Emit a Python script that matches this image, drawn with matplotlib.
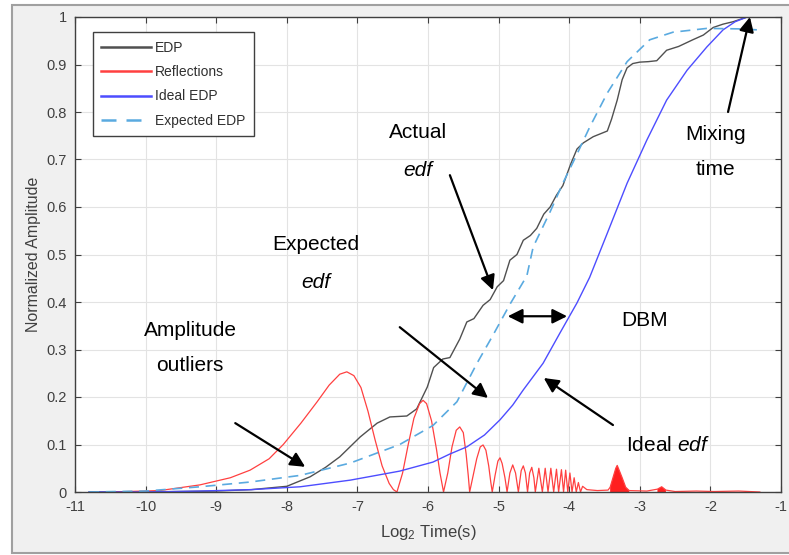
import numpy as np
import matplotlib
matplotlib.use('Agg')
import matplotlib.pyplot as plt
from matplotlib.patches import Rectangle

plt.rcParams['font.family'] = ['Liberation Sans', 'DejaVu Sans']
plt.rcParams['mathtext.fontset'] = 'custom'
plt.rcParams['mathtext.rm'] = 'Liberation Sans'
plt.rcParams['mathtext.it'] = 'Liberation Sans:italic'
plt.rcParams['axes.unicode_minus'] = False

# EDP (actual)
edp_x = [-10.8, -10.0, -9.0, -8.5, -8.0, -7.67, -7.45, -7.25, -6.96, -6.72, -6.54, -6.30,
         -6.16, -6.01, -5.92, -5.79, -5.69, -5.55, -5.45, -5.35, -5.22, -5.12, -5.02, -4.93,
         -4.84, -4.74, -4.65, -4.55, -4.46, -4.36, -4.27, -4.18, -4.09, -3.98, -3.89, -3.80,
         -3.66, -3.46, -3.40, -3.32, -3.25, -3.18, -3.10, -3.00, -2.88, -2.76, -2.62, -2.45,
         -2.25, -2.10, -1.96, -1.82, -1.68, -1.48]
edp_y = [0.0, 0.0, 0.002, 0.005, 0.012, 0.032, 0.052, 0.074, 0.116, 0.145, 0.158, 0.160,
         0.175, 0.221, 0.262, 0.280, 0.283, 0.322, 0.358, 0.365, 0.393, 0.405, 0.432, 0.445,
         0.488, 0.500, 0.530, 0.540, 0.555, 0.585, 0.600, 0.625, 0.645, 0.690, 0.722, 0.735,
         0.748, 0.760, 0.785, 0.825, 0.868, 0.893, 0.902, 0.905, 0.906, 0.908, 0.930, 0.938,
         0.952, 0.962, 0.978, 0.985, 0.990, 1.0]

# reflections
refl_x = [-10.5, -9.8, -9.23, -8.8, -8.52, -8.25, -8.05, -7.8, -7.57, -7.4, -7.25, -7.15,
          -7.05, -6.95, -6.85, -6.75, -6.65, -6.55, -6.49, -6.44,
          -6.36, -6.28, -6.20, -6.12, -6.07, -6.02, -5.95, -5.88, -5.83, -5.78,
          -5.72, -5.66, -5.60, -5.55, -5.50, -5.46, -5.43, -5.41,
          -5.36, -5.31, -5.26, -5.22, -5.18, -5.14, -5.11, -5.09,
          -5.05, -5.01, -4.98, -4.95, -4.91, -4.88,
          -4.84, -4.80, -4.76, -4.72, -4.68, -4.65, -4.62, -4.59, -4.56, -4.53, -4.50, -4.48,
          -4.43, -4.38, -4.34, -4.30, -4.26, -4.22, -4.18, -4.15, -4.11, -4.08,
          -4.05, -4.02, -3.99, -3.96, -3.93, -3.90, -3.87, -3.84, -3.81, -3.75,
          -3.60, -3.45, -3.42, -3.38, -3.34, -3.32, -3.29, -3.25, -3.20, -3.15,
          -2.90, -2.75, -2.69, -2.63, -2.50, -2.20, -1.95, -1.60, -1.30]
refl_y = [0.0, 0.003, 0.015, 0.03, 0.046, 0.07, 0.10, 0.145, 0.19, 0.225, 0.248, 0.253,
          0.245, 0.22, 0.17, 0.11, 0.055, 0.018, 0.005, 0.0,
          0.04, 0.10, 0.155, 0.186, 0.193, 0.186, 0.15, 0.09, 0.04, 0.0,
          0.04, 0.095, 0.13, 0.137, 0.125, 0.08, 0.035, 0.0,
          0.035, 0.07, 0.095, 0.099, 0.088, 0.055, 0.02, 0.0,
          0.035, 0.065, 0.072, 0.06, 0.03, 0.0,
          0.04, 0.057, 0.04, 0.0, 0.045, 0.055, 0.04, 0.0, 0.04, 0.052, 0.03, 0.0,
          0.05, 0.0, 0.05, 0.0, 0.05, 0.0, 0.048, 0.0, 0.047, 0.0,
          0.046, 0.0, 0.04, 0.0, 0.03, 0.0, 0.02, 0.0, 0.012, 0.005,
          0.003, 0.004, 0.01, 0.03, 0.05, 0.056, 0.045, 0.03, 0.01, 0.003,
          0.002, 0.006, 0.011, 0.004, 0.001, 0.002, 0.001, 0.002, 0.0]

# ideal EDP
ideal_x = [-10.8, -10.0, -9.23, -8.5, -7.81, -7.10, -6.40, -5.93, -5.69, -5.45, -5.20, -4.98,
           -4.80, -4.65, -4.50, -4.37, -4.13, -3.89, -3.71, -3.46, -3.18, -2.90, -2.62, -2.33,
           -2.05, -1.82, -1.65, -1.48]
ideal_y = [0.0, 0.0, 0.002, 0.005, 0.011, 0.025, 0.044, 0.063, 0.080, 0.095, 0.120, 0.152,
           0.183, 0.215, 0.245, 0.271, 0.335, 0.398, 0.452, 0.545, 0.650, 0.741, 0.825, 0.888,
           0.937, 0.973, 0.990, 1.0]

# expected EDP
exp_x = [-10.8, -10.0, -9.23, -8.52, -7.81, -7.10, -6.40, -5.93, -5.59, -5.31, -5.08, -4.84,
         -4.60, -4.51, -4.27, -4.09, -3.91, -3.71, -3.46, -3.18, -2.86, -2.53, -2.05, -1.60, -1.34]
exp_y = [0.0, 0.002, 0.011, 0.021, 0.035, 0.061, 0.100, 0.140, 0.190, 0.270, 0.330, 0.395,
         0.455, 0.516, 0.590, 0.650, 0.705, 0.768, 0.840, 0.906, 0.952, 0.968, 0.976, 0.975, 0.973]

fig = plt.figure(figsize=(7.89, 5.55), dpi=100, facecolor='white')
fig.add_artist(Rectangle((12/789, 2/555), 1.0, 1 - 7/555, transform=fig.transFigure,
                         facecolor='#f0f0f0', edgecolor='#a0a0a0', lw=1.5, zorder=-10))

ax = fig.add_axes([75/789, 63/555, 706/789, 475/555])

ax.plot(edp_x, edp_y, color='#505050', lw=1.0, label='EDP')
ax.plot(refl_x, refl_y, color='#ff4040', lw=0.9, label='Reflections')
rx = np.array(refl_x)
ax.fill_between(refl_x, refl_y, where=((rx >= -3.42) & (rx <= -3.15)) | ((rx >= -2.75) & (rx <= -2.63)),
                color='#ff2020', lw=0)
ax.plot(ideal_x, ideal_y, color='#4d4dff', lw=1.0, label='Ideal EDP')
ax.plot(exp_x, exp_y, color='#5aaae0', lw=1.2, ls=(0, (6, 4)), label='Expected EDP')

ax.set_xlim(-11, -1)
ax.set_ylim(0, 1)
ax.set_xticks(range(-11, 0))
ax.set_yticks(np.arange(0, 1.01, 0.1))
ax.set_yticklabels(['0', '0.1', '0.2', '0.3', '0.4', '0.5', '0.6', '0.7', '0.8', '0.9', '1'])
ax.grid(True, color='#e3e3e3', lw=0.8)
ax.set_axisbelow(True)
ax.tick_params(direction='in', top=True, right=True, length=4, labelsize=10.5,
               colors='#404040', pad=6)
for s in ax.spines.values():
    s.set_color('#404040')
    s.set_linewidth(1.0)

ax.set_xlabel('Log$_2$ Time(s)', fontsize=12, color='#404040', labelpad=6)
ax.set_ylabel('Normalized Amplitude', fontsize=11.5, color='#404040', labelpad=4)

leg = ax.legend(loc='upper left', bbox_to_anchor=(0.025, 0.968), borderaxespad=0,
                fontsize=10, fancybox=False, framealpha=1, edgecolor='#404040',
                handlelength=3.6, labelspacing=0.75, borderpad=0.6, handletextpad=0.3)
leg.get_frame().set_linewidth(1.0)
for t in leg.get_texts():
    t.set_color('#303030')
for h in leg.get_lines():
    h.set_linewidth(1.8)

# annotations
fs = 15
arw = dict(arrowstyle='-|>', color='black', lw=1.6, mutation_scale=22, shrinkA=0, shrinkB=0)
ax.text(-6.14, 0.756, 'Actual', fontsize=fs, ha='center', va='center')
ax.text(-6.14, 0.676, 'edf', fontsize=fs, style='italic', ha='center', va='center')
ax.annotate('', xy=(-5.08, 0.425), xytext=(-5.69, 0.667), arrowprops=arw)

ax.text(-7.59, 0.52, 'Expected', fontsize=fs, ha='center', va='center')
ax.text(-7.59, 0.442, 'edf', fontsize=fs, style='italic', ha='center', va='center')
ax.annotate('', xy=(-5.15, 0.198), xytext=(-6.40, 0.347), arrowprops=arw)

ax.text(-9.37, 0.339, 'Amplitude', fontsize=fs, ha='center', va='center')
ax.text(-9.37, 0.267, 'outliers', fontsize=fs, ha='center', va='center')
ax.annotate('', xy=(-7.74, 0.053), xytext=(-8.73, 0.145), arrowprops=arw)

ax.text(-2.93, 0.362, 'DBM', fontsize=fs, ha='center', va='center')
ax.annotate('', xy=(-4.03, 0.37), xytext=(-4.87, 0.37),
            arrowprops=dict(arrowstyle='<|-|>', color='black', lw=1.6, mutation_scale=22,
                            shrinkA=0, shrinkB=0))

ax.text(-2.60, 0.097, r'Ideal $\mathit{edf}$', fontsize=fs, ha='center', va='center')
ax.annotate('', xy=(-4.36, 0.24), xytext=(-3.38, 0.141), arrowprops=arw)

ax.text(-1.93, 0.752, 'Mixing', fontsize=fs, ha='center', va='center')
ax.text(-1.93, 0.678, 'time', fontsize=fs, ha='center', va='center')
ax.annotate('', xy=(-1.44, 1.0), xytext=(-1.75, 0.80), arrowprops=arw)

fig.savefig('out.png', dpi=100, facecolor=fig.get_facecolor())
